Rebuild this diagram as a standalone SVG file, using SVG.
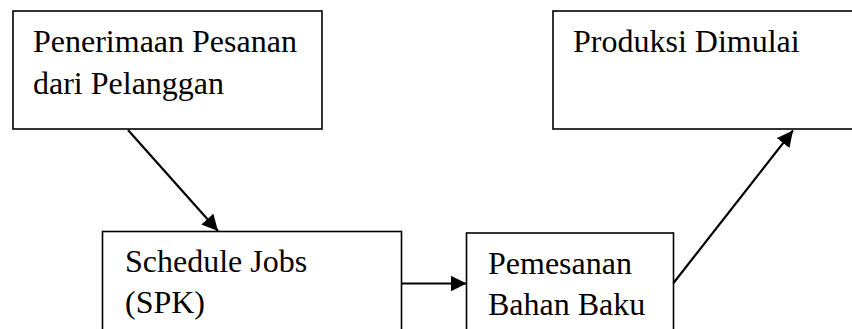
<svg xmlns="http://www.w3.org/2000/svg" width="852" height="329" viewBox="0 0 852 329">
<style>
.box{fill:#fff;stroke:#000;stroke-width:1.6}
.t{font-family:"Liberation Serif","Times New Roman",serif;font-size:32px;fill:#000}
.c{stroke:#000;stroke-width:2.2;fill:none}
</style>
<defs>
<marker id="ah" markerUnits="userSpaceOnUse" markerWidth="18" markerHeight="18" refX="16" refY="8" orient="auto" viewBox="0 0 18 18">
<path d="M0,0 L16,8 L0,16 z" fill="#000"/>
</marker>
</defs>
<rect width="852" height="329" fill="#fff"/>
<g id="n1">
<rect class="box" x="13" y="11" width="309" height="118"/>
<text class="t" x="33" y="52">Penerimaan Pesanan</text>
<text class="t" x="33" y="94">dari Pelanggan</text>
</g>
<g id="n2">
<rect class="box" x="553" y="11" width="320" height="118"/>
<text class="t" x="573" y="52">Produksi Dimulai</text>
</g>
<g id="n3">
<rect class="box" x="102.5" y="231.5" width="299" height="120"/>
<text class="t" x="125" y="272">Schedule Jobs</text>
<text class="t" x="125" y="313">(SPK)</text>
</g>
<g id="n4">
<rect class="box" x="466.5" y="233" width="207" height="120"/>
<text class="t" x="488" y="274">Pemesanan</text>
<text class="t" x="488" y="315">Bahan Baku</text>
</g>
<g id="connectors">
<line class="c" x1="128" y1="130" x2="218" y2="231" marker-end="url(#ah)"/>
<line class="c" x1="401.5" y1="283.5" x2="466.5" y2="283.5" marker-end="url(#ah)"/>
<line class="c" x1="673.5" y1="283" x2="793" y2="130.5" marker-end="url(#ah)"/>
</g>
</svg>
